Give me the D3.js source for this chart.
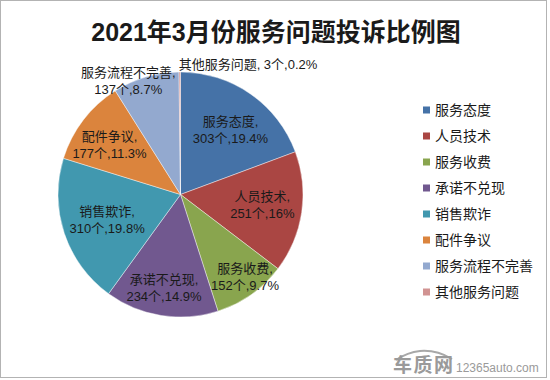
<!DOCTYPE html>
<html><head><meta charset="utf-8">
<script src="https://cdn.jsdelivr.net/npm/d3@7"></script>
<style>
html,body{margin:0;padding:0;background:#fff;}
svg{display:block;font-family:"Liberation Sans",Arial,"Noto Sans CJK SC",sans-serif;}
</style></head>
<body>
<svg id="chart" width="550" height="380"></svg>
<script>
const title = "2021年3月份服务问题投诉比例图";
const categories = ["服务态度","人员技术","服务收费","承诺不兑现","销售欺诈","配件争议","服务流程不完善","其他服务问题"];
const counts = [303,251,152,234,310,177,137,3];
const percents = ["19.4%","16%","9.7%","14.9%","19.8%","11.3%","8.7%","0.2%"];
const colors = ["#4572A7","#AA4643","#89A54E","#71588F","#4198AF","#DB843D","#93A9CF","#D19392"];

// layout (not data)
const cx = 180.5, cy = 194.5, R = 122.5;
const labelNudge = [[1,6],[-3,-2],[15,12],[-3,9],[8,-2],[-3,3],[-28,-31],[68,-44]];

const svg = d3.select("#chart");
svg.append("rect").attr("x",0.5).attr("y",0.5).attr("width",546).attr("height",377)
  .attr("fill","#fff").attr("stroke","#b3b3b3").attr("stroke-width",1);

svg.append("text").attr("x",276).attr("y",41).attr("text-anchor","middle")
  .attr("font-size",25).attr("font-weight","bold").attr("fill","#1a1a1a").text(title);

const pie = d3.pie().sort(null).value(d=>d)(counts);
const arc = d3.arc().innerRadius(0).outerRadius(R);
const labelArc = d3.arc().innerRadius(R*0.7).outerRadius(R*0.7);

const g = svg.append("g").attr("transform",`translate(${cx},${cy})`);
g.selectAll("path").data(pie).join("path")
  .attr("d",arc).attr("fill",(d,i)=>colors[i])
  .attr("stroke","#ffffff").attr("stroke-width",0.6).attr("stroke-opacity",0.7);

const lbl = g.selectAll("text.lbl").data(pie).join("text").attr("class","lbl")
  .attr("font-size",13).attr("fill","#1a1a1a").attr("text-anchor","middle")
  .attr("transform",(d,i)=>{const c=labelArc.centroid(d);return `translate(${c[0]+labelNudge[i][0]},${c[1]+labelNudge[i][1]})`;});
lbl.each(function(d,i){
  const t=d3.select(this);
  if(i===categories.length-1){
    t.append("tspan").attr("x",0).attr("dy","0.35em").text(`${categories[i]}, ${counts[i]}个,${percents[i]}`);
  } else {
    t.append("tspan").attr("x",0).attr("dy","-0.3em").text(categories[i]+",");
    t.append("tspan").attr("x",0).attr("dy","1.3em").text(`${counts[i]}个,${percents[i]}`);
  }
});

// legend
const ly = d3.scalePoint().domain(categories).range([110,292]);
const lg = svg.append("g");
lg.selectAll("rect").data(categories).join("rect")
  .attr("x",423).attr("y",d=>ly(d)-3.5).attr("width",7).attr("height",7)
  .attr("fill",(d,i)=>colors[i]);
lg.selectAll("text").data(categories).join("text")
  .attr("x",435).attr("y",d=>ly(d)).attr("dy","0.35em")
  .attr("font-size",14).attr("fill","#1a1a1a").text(d=>d);

// watermark
const wm = svg.append("g").attr("fill","#9a9a9a");
wm.append("path").attr("d","M396,360 C402,356 410,352 420,351 C432,350 442,353 452,359")
  .attr("fill","none").attr("stroke","#a8a8a8").attr("stroke-width",2);
wm.append("text").attr("x",393).attr("y",372).attr("font-size",19).attr("font-weight","bold")
  .attr("textLength",60).attr("fill","#9a9a9a").text("车质网");
wm.append("text").attr("x",456).attr("y",372).attr("font-size",12).attr("fill","#9a9a9a").text("12365auto.com");
</script>
</body></html>
